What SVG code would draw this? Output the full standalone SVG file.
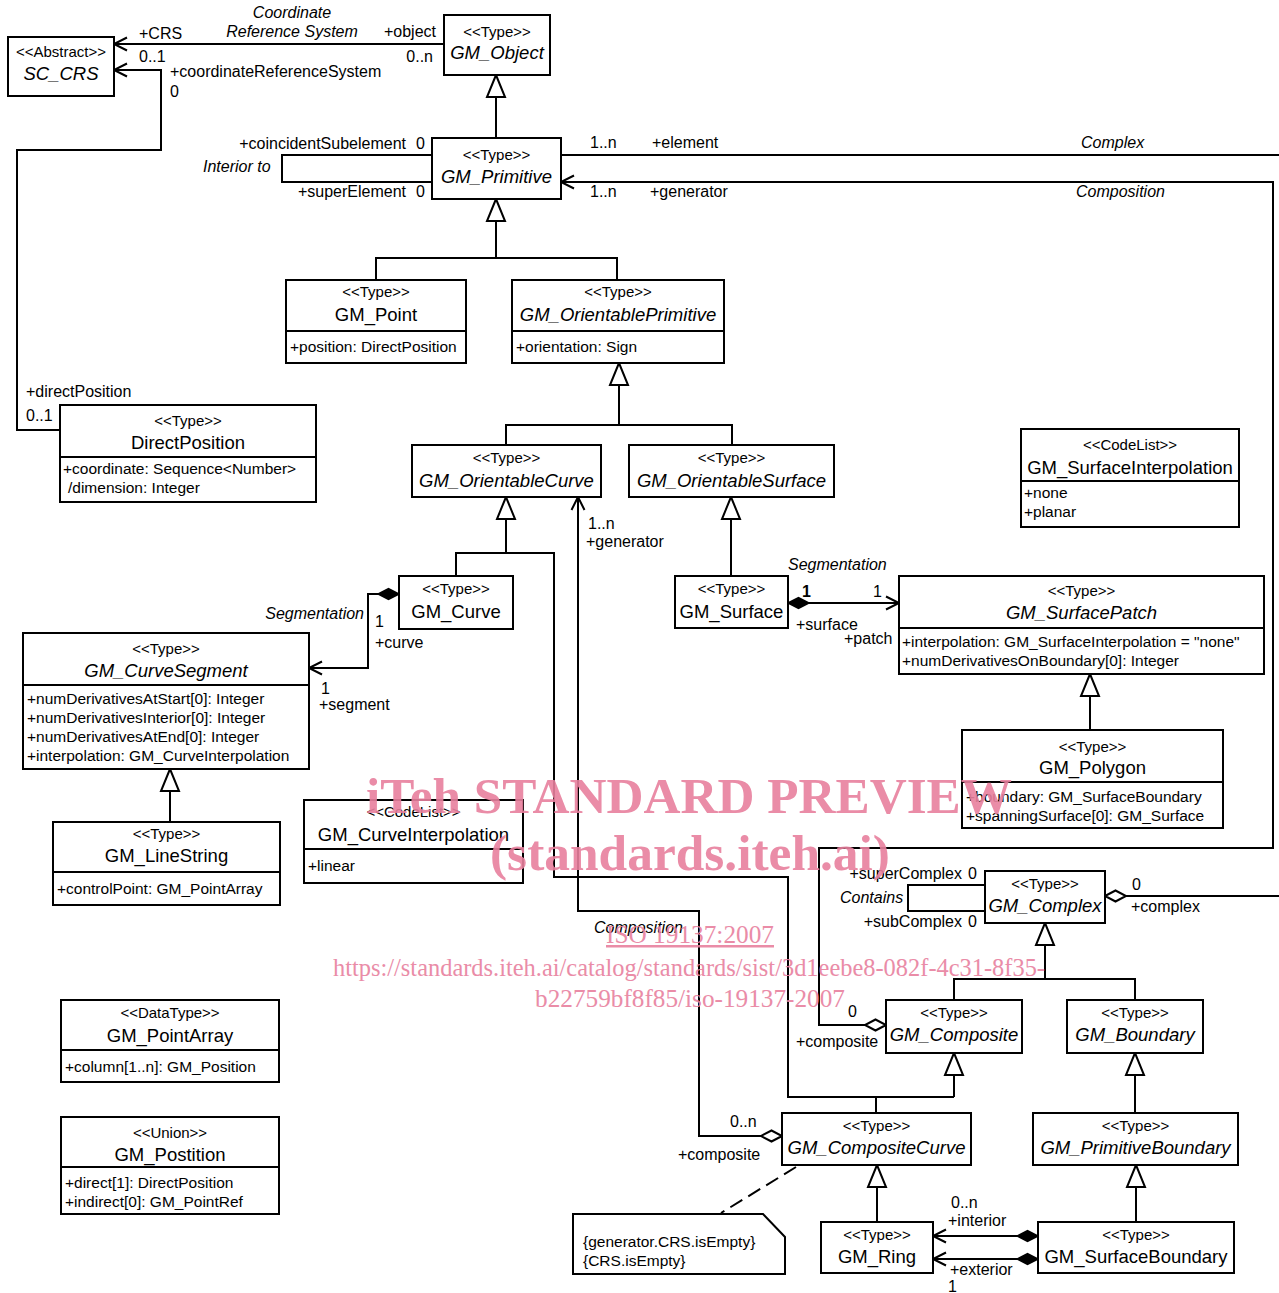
<svg xmlns="http://www.w3.org/2000/svg" width="1279" height="1293" viewBox="0 0 1279 1293">
<style>
.box{fill:#fff;stroke:#000;stroke-width:2}
.ln{fill:none;stroke:#000;stroke-width:2}
.dash{fill:none;stroke:#000;stroke-width:2;stroke-dasharray:14 7}
text{font-family:"Liberation Sans",Arial,sans-serif;fill:#000}
.st{font-size:15px;text-anchor:middle}
.nm{font-size:18.5px;text-anchor:middle}
.it{font-style:italic}
.at{font-size:15.5px}
.lb{font-size:16px}
.wm{font-family:"Liberation Serif","Times New Roman",serif;fill:#e8809e;opacity:0.9}
.wb{font-weight:bold;font-size:50px}
.ws{font-size:25px}
</style>
<defs>
<marker id="open" markerUnits="userSpaceOnUse" markerWidth="1" markerHeight="1" refX="0" refY="0" orient="auto" overflow="visible">
<path d="M-13,-6.5 L0,0 L-13,6.5" fill="none" stroke="#000" stroke-width="2"/>
</marker>
<marker id="tri" markerUnits="userSpaceOnUse" markerWidth="1" markerHeight="1" refX="0" refY="0" orient="auto" overflow="visible">
<path d="M0,0 L-22,-9 L-22,9 Z" fill="#fff" stroke="#000" stroke-width="2"/>
</marker>
<marker id="dfill" markerUnits="userSpaceOnUse" markerWidth="1" markerHeight="1" refX="0" refY="0" orient="auto" overflow="visible">
<path d="M0,0 L10.5,-5.5 L21,0 L10.5,5.5 Z" fill="#000" stroke="#000" stroke-width="1.5"/>
</marker>
<marker id="dhollow" markerUnits="userSpaceOnUse" markerWidth="1" markerHeight="1" refX="0" refY="0" orient="auto" overflow="visible">
<path d="M0,0 L10.5,-5.5 L21,0 L10.5,5.5 Z" fill="#fff" stroke="#000" stroke-width="2"/>
</marker>
</defs>
<rect width="1279" height="1293" fill="#fff"/>

<g id="connectors">
<path class="ln" d="M444,44 L114,44" marker-end="url(#open)"/>
<path class="ln" d="M60,430 L17,430 L17,150 L161,150 L161,70 L114,70" marker-end="url(#open)"/>
<path class="ln" d="M496,138 L496,75" marker-end="url(#tri)"/>
<path class="ln" d="M432,155 L282,155 L282,182 L432,182"/>
<path class="ln" d="M561,155 L1279,155"/>
<path class="ln" d="M886,1025 L819,1025 L819,848 L1273,848 L1273,182 L561,182" marker-start="url(#dhollow)" marker-end="url(#open)"/>
<path class="ln" d="M496,258 L496,199" marker-end="url(#tri)"/>
<path class="ln" d="M376,280 L376,258 L617,258 L617,280"/>
<path class="ln" d="M619,425 L619,363" marker-end="url(#tri)"/>
<path class="ln" d="M506,445 L506,425 L732,425 L732,445"/>
<path class="ln" d="M506,553 L506,497" marker-end="url(#tri)"/>
<path class="ln" d="M456,576 L456,553 L554,553 L554,877 L788,877 L788,1097 L954,1097"/>
<path class="ln" d="M876,1113 L876,1097"/>
<path class="ln" d="M954,1097 L954,1053" marker-end="url(#tri)"/>
<path class="ln" d="M782,1136 L699,1136 L699,911 L578,911 L578,497" marker-start="url(#dhollow)" marker-end="url(#open)"/>
<path class="ln" d="M399,594 L368,594 L368,668 L309,668" marker-start="url(#dfill)" marker-end="url(#open)"/>
<path class="ln" d="M170,822 L170,769" marker-end="url(#tri)"/>
<path class="ln" d="M731,576 L731,497" marker-end="url(#tri)"/>
<path class="ln" d="M788,603 L899,603" marker-start="url(#dfill)" marker-end="url(#open)"/>
<path class="ln" d="M1090,730 L1090,674" marker-end="url(#tri)"/>
<path class="ln" d="M985,885 L908,885 L908,911 L985,911"/>
<path class="ln" d="M1105,896 L1279,896" marker-start="url(#dhollow)"/>
<path class="ln" d="M1045,979 L1045,923" marker-end="url(#tri)"/>
<path class="ln" d="M954,1000 L954,979 L1135,979 L1135,1000"/>
<path class="ln" d="M1135,1113 L1135,1053" marker-end="url(#tri)"/>
<path class="ln" d="M877,1222 L877,1165" marker-end="url(#tri)"/>
<path class="ln" d="M1136,1222 L1136,1165" marker-end="url(#tri)"/>
<path class="ln" d="M1038,1236 L933,1236" marker-start="url(#dfill)" marker-end="url(#open)"/>
<path class="ln" d="M1038,1259 L933,1259" marker-start="url(#dfill)" marker-end="url(#open)"/>
<path class="dash" d="M796,1167 L721,1213"/>
<text class="lb" x="139" y="39">+CRS</text>
<text class="lb" x="139" y="62">0..1</text>
<text class="lb it" x="292" y="18" text-anchor="middle">Coordinate</text>
<text class="lb it" x="292" y="37" text-anchor="middle">Reference System</text>
<text class="lb" x="436" y="37" text-anchor="end">+object</text>
<text class="lb" x="433" y="62" text-anchor="end">0..n</text>
<text class="lb" x="170" y="77">+coordinateReferenceSystem</text>
<text class="lb" x="170" y="97">0</text>
<text class="lb" x="26" y="397">+directPosition</text>
<text class="lb" x="26" y="421">0..1</text>
<text class="lb" x="406" y="149" text-anchor="end">+coincidentSubelement</text>
<text class="lb" x="416" y="149">0</text>
<text class="lb it" x="203" y="172">Interior to</text>
<text class="lb" x="406" y="197" text-anchor="end">+superElement</text>
<text class="lb" x="416" y="197">0</text>
<text class="lb" x="590" y="148">1..n</text>
<text class="lb" x="652" y="148">+element</text>
<text class="lb it" x="1081" y="148">Complex</text>
<text class="lb" x="590" y="197">1..n</text>
<text class="lb" x="650" y="197">+generator</text>
<text class="lb it" x="1076" y="197">Composition</text>
<text class="lb" x="588" y="529">1..n</text>
<text class="lb" x="586" y="547">+generator</text>
<text class="lb it" x="364" y="619" text-anchor="end">Segmentation</text>
<text class="lb" x="375" y="627">1</text>
<text class="lb" x="375" y="648">+curve</text>
<text class="lb" x="321" y="694">1</text>
<text class="lb" x="319" y="710">+segment</text>
<text class="lb it" x="788" y="570">Segmentation</text>
<text class="lb" x="802" y="597" font-weight="bold">1</text>
<text class="lb" x="873" y="597">1</text>
<text class="lb" x="796" y="630">+surface</text>
<text class="lb" x="844" y="644">+patch</text>
<text class="lb" x="962" y="879" text-anchor="end">+superComplex</text>
<text class="lb" x="968" y="879">0</text>
<text class="lb it" x="840" y="903">Contains</text>
<text class="lb" x="962" y="927" text-anchor="end">+subComplex</text>
<text class="lb" x="968" y="927">0</text>
<text class="lb" x="1132" y="890">0</text>
<text class="lb" x="1131" y="912">+complex</text>
<text class="lb" x="848" y="1017">0</text>
<text class="lb" x="796" y="1047">+composite</text>
<text class="lb it" x="594" y="933">Composition</text>
<text class="lb" x="730" y="1127">0..n</text>
<text class="lb" x="678" y="1160">+composite</text>
<text class="lb" x="951" y="1208">0..n</text>
<text class="lb" x="948" y="1226">+interior</text>
<text class="lb" x="950" y="1275">+exterior</text>
<text class="lb" x="948" y="1292">1</text>
</g>

<g id="SC_CRS"><rect class="box" x="8" y="37" width="106" height="59"/>
<text class="st" x="61" y="57">&lt;&lt;Abstract&gt;&gt;</text><text class="nm it" x="61" y="80">SC_CRS</text></g>

<g id="GM_Object"><rect class="box" x="444" y="15" width="106" height="60"/>
<text class="st" x="497" y="37">&lt;&lt;Type&gt;&gt;</text><text class="nm it" x="497" y="59">GM_Object</text></g>

<g id="GM_Primitive"><rect class="box" x="432" y="138" width="129" height="61"/>
<text class="st" x="496.5" y="160">&lt;&lt;Type&gt;&gt;</text><text class="nm it" x="496.5" y="183">GM_Primitive</text></g>

<g id="GM_Point"><rect class="box" x="286" y="280" width="180" height="83"/><path class="ln" d="M286,331 H466"/>
<text class="st" x="376" y="297">&lt;&lt;Type&gt;&gt;</text><text class="nm" x="376" y="321">GM_Point</text>
<text class="at" x="290" y="352">+position: DirectPosition</text></g>

<g id="GM_OrientablePrimitive"><rect class="box" x="512" y="280" width="212" height="83"/><path class="ln" d="M512,331 H724"/>
<text class="st" x="618" y="297">&lt;&lt;Type&gt;&gt;</text><text class="nm it" x="618" y="321">GM_OrientablePrimitive</text>
<text class="at" x="516" y="352">+orientation: Sign</text></g>

<g id="DirectPosition"><rect class="box" x="60" y="405" width="256" height="97"/><path class="ln" d="M60,457 H316"/>
<text class="st" x="188" y="426">&lt;&lt;Type&gt;&gt;</text><text class="nm" x="188" y="449">DirectPosition</text>
<text class="at" x="63" y="474">+coordinate: Sequence&lt;Number&gt;</text>
<text class="at" x="68" y="493">/dimension: Integer</text></g>

<g id="GM_OrientableCurve"><rect class="box" x="412" y="445" width="189" height="52"/>
<text class="st" x="506.5" y="463">&lt;&lt;Type&gt;&gt;</text><text class="nm it" x="506.5" y="487">GM_OrientableCurve</text></g>

<g id="GM_OrientableSurface"><rect class="box" x="629" y="445" width="205" height="52"/>
<text class="st" x="731.5" y="463">&lt;&lt;Type&gt;&gt;</text><text class="nm it" x="731.5" y="487">GM_OrientableSurface</text></g>

<g id="GM_SurfaceInterpolation"><rect class="box" x="1021" y="429" width="218" height="98"/><path class="ln" d="M1021,481 H1239"/>
<text class="st" x="1130" y="450">&lt;&lt;CodeList&gt;&gt;</text><text class="nm" x="1130" y="474">GM_SurfaceInterpolation</text>
<text class="at" x="1024" y="498">+none</text><text class="at" x="1024" y="517">+planar</text></g>

<g id="GM_Curve"><rect class="box" x="399" y="576" width="114" height="53"/>
<text class="st" x="456" y="594">&lt;&lt;Type&gt;&gt;</text><text class="nm" x="456" y="618">GM_Curve</text></g>

<g id="GM_Surface"><rect class="box" x="675" y="576" width="113" height="52"/>
<text class="st" x="731.5" y="594">&lt;&lt;Type&gt;&gt;</text><text class="nm" x="731.5" y="618">GM_Surface</text></g>

<g id="GM_SurfacePatch"><rect class="box" x="899" y="576" width="365" height="98"/><path class="ln" d="M899,628 H1264"/>
<text class="st" x="1081.5" y="596">&lt;&lt;Type&gt;&gt;</text><text class="nm it" x="1081.5" y="619">GM_SurfacePatch</text>
<text class="at" x="902" y="647">+interpolation: GM_SurfaceInterpolation = "none"</text>
<text class="at" x="902" y="666">+numDerivativesOnBoundary[0]: Integer</text></g>

<g id="GM_CurveSegment"><rect class="box" x="23" y="633" width="286" height="136"/><path class="ln" d="M23,685 H309"/>
<text class="st" x="166" y="654">&lt;&lt;Type&gt;&gt;</text><text class="nm it" x="166" y="677">GM_CurveSegment</text>
<text class="at" x="27" y="704">+numDerivativesAtStart[0]: Integer</text>
<text class="at" x="27" y="723">+numDerivativesInterior[0]: Integer</text>
<text class="at" x="27" y="742">+numDerivativesAtEnd[0]: Integer</text>
<text class="at" x="27" y="761">+interpolation: GM_CurveInterpolation</text></g>

<g id="GM_Polygon"><rect class="box" x="962" y="730" width="261" height="98"/><path class="ln" d="M962,782 H1223"/>
<text class="st" x="1092.5" y="752">&lt;&lt;Type&gt;&gt;</text><text class="nm" x="1092.5" y="774">GM_Polygon</text>
<text class="at" x="966" y="802">+boundary: GM_SurfaceBoundary</text>
<text class="at" x="966" y="821">+spanningSurface[0]: GM_Surface</text></g>

<g id="GM_LineString"><rect class="box" x="53" y="822" width="227" height="83"/><path class="ln" d="M53,872 H280"/>
<text class="st" x="166.5" y="839">&lt;&lt;Type&gt;&gt;</text><text class="nm" x="166.5" y="862">GM_LineString</text>
<text class="at" x="57" y="894">+controlPoint: GM_PointArray</text></g>

<g id="GM_CurveInterpolation"><rect class="box" x="304" y="800" width="219" height="83"/><path class="ln" d="M304,849 H523"/>
<text class="st" x="413.5" y="817">&lt;&lt;CodeList&gt;&gt;</text><text class="nm" x="413.5" y="841">GM_CurveInterpolation</text>
<text class="at" x="308" y="871">+linear</text></g>

<g id="GM_Complex"><rect class="box" x="985" y="871" width="120" height="52"/>
<text class="st" x="1045" y="889">&lt;&lt;Type&gt;&gt;</text><text class="nm it" x="1045" y="912">GM_Complex</text></g>

<g id="GM_Composite"><rect class="box" x="886" y="1000" width="136" height="53"/>
<text class="st" x="954" y="1018">&lt;&lt;Type&gt;&gt;</text><text class="nm it" x="954" y="1041">GM_Composite</text></g>

<g id="GM_Boundary"><rect class="box" x="1067" y="1000" width="136" height="53"/>
<text class="st" x="1135" y="1018">&lt;&lt;Type&gt;&gt;</text><text class="nm it" x="1135" y="1041">GM_Boundary</text></g>

<g id="GM_PointArray"><rect class="box" x="61" y="1000" width="218" height="82"/><path class="ln" d="M61,1050 H279"/>
<text class="st" x="170" y="1018">&lt;&lt;DataType&gt;&gt;</text><text class="nm" x="170" y="1042">GM_PointArray</text>
<text class="at" x="65" y="1072">+column[1..n]: GM_Position</text></g>

<g id="GM_Postition"><rect class="box" x="61" y="1117" width="218" height="97"/><path class="ln" d="M61,1167 H279"/>
<text class="st" x="170" y="1138">&lt;&lt;Union&gt;&gt;</text><text class="nm" x="170" y="1161">GM_Postition</text>
<text class="at" x="65" y="1188">+direct[1]: DirectPosition</text>
<text class="at" x="65" y="1207">+indirect[0]: GM_PointRef</text></g>

<g id="GM_CompositeCurve"><rect class="box" x="782" y="1113" width="189" height="52"/>
<text class="st" x="876.5" y="1131">&lt;&lt;Type&gt;&gt;</text><text class="nm it" x="876.5" y="1154">GM_CompositeCurve</text></g>

<g id="GM_PrimitiveBoundary"><rect class="box" x="1033" y="1113" width="205" height="52"/>
<text class="st" x="1135.5" y="1131">&lt;&lt;Type&gt;&gt;</text><text class="nm it" x="1135.5" y="1154">GM_PrimitiveBoundary</text></g>

<g id="GM_Ring"><rect class="box" x="821" y="1222" width="112" height="51"/>
<text class="st" x="877" y="1240">&lt;&lt;Type&gt;&gt;</text><text class="nm" x="877" y="1263">GM_Ring</text></g>

<g id="GM_SurfaceBoundary"><rect class="box" x="1038" y="1222" width="196" height="51"/>
<text class="st" x="1136" y="1240">&lt;&lt;Type&gt;&gt;</text><text class="nm" x="1136" y="1263">GM_SurfaceBoundary</text></g>

<g id="note"><path class="box" d="M573,1214 L763,1214 L785,1237 L785,1274 L573,1274 Z"/>
<text class="at" x="583" y="1247">{generator.CRS.isEmpty}</text>
<text class="at" x="583" y="1266">{CRS.isEmpty}</text></g>

<g id="watermark">
<text class="wm wb" x="366" y="813" textLength="646" lengthAdjust="spacingAndGlyphs">iTeh STANDARD PREVIEW</text>
<text class="wm wb" x="490" y="870" textLength="400" lengthAdjust="spacingAndGlyphs">(standards.iteh.ai)</text>
<text class="wm ws" x="606" y="943" textLength="168" lengthAdjust="spacingAndGlyphs" text-decoration="underline">ISO 19137:2007</text>
<text class="wm ws" x="333" y="976" textLength="712" lengthAdjust="spacingAndGlyphs">https://standards.iteh.ai/catalog/standards/sist/3d1eebe8-082f-4c31-8f35-</text>
<text class="wm ws" x="535" y="1007" textLength="310" lengthAdjust="spacingAndGlyphs">b22759bf8f85/iso-19137-2007</text>
</g>
</svg>
